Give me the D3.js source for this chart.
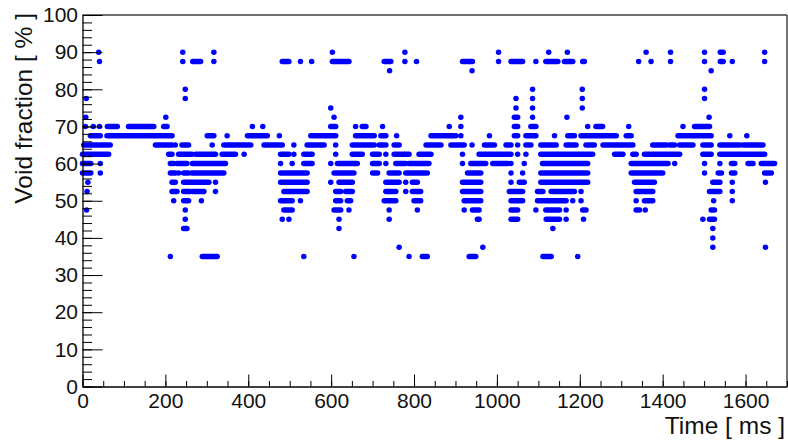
<!DOCTYPE html>
<html>
<head>
<meta charset="utf-8">
<script src="https://cdn.jsdelivr.net/npm/d3@7"></script>
<style>
  body { margin: 0; background: #fff; }
  svg { display: block; font-family: "Liberation Sans", Arial, Helvetica, sans-serif; }
</style>
</head>
<body>
<svg id="chart" width="788" height="442"></svg>
<script>
// void fraction levels (%) and the times (ms) where a marker sits on that level.
// a plain number is one marker, a [from, to] pair is a run of overlapping markers.
const t90 = [39, 242, 317, 603, 778, 1004, 1125, 1170, 1360, 1419, 1501, [1539, 1546], 1646];
const t875 = [41, 242, [266, 285], 317, [482, 498], 526, 553, [603, 643], [728, 744], 778, 806,
  [917, 941], 1004, [1034, 1062], 1094, [1118, 1147], [1163, 1183], [1207, 1211], 1342, 1372,
  1419, 1501, [1539, 1546], 1568, 1646];
const t85 = [741, 940, 1517];
const t80 = [248, 1086, 1206, 1501];
const t775 = [9, 248, 1046, 1086, 1206, 1501];
const t75 = [599, 1046, 1086, 1206];
const t725 = [8, 201, 607, 913, [1042, 1050], 1086, 1169, 1512];
const t70 = [7, 26, 41, [60, 84], [111, 172], [196, 204], 410, 435, [599, 611], 659, [675, 684],
  724, 885, 913, [1042, 1050], [1082, 1094], 1219, [1239, 1255], 1318, 1449, [1477, 1513]];
const t675 = [[19, 43], [59, 216], [301, 317], 349, [398, 446], 475, [551, 611], [659, 704],
  [720, 732], 758, [841, 901], 913, 982, [1042, 1050], [1070, 1094], 1139, [1171, 1187],
  [1203, 1288], [1312, 1324], [1437, 1517], 1562, 1603];
const t65 = [[3, 67], [176, 216], 224, [240, 256], 313, [341, 406], [438, 482], 510, [542, 583],
  611, [651, 704], [716, 732], [752, 764], [829, 865], [889, 921], 940, [970, 994], [1022, 1034],
  1050, [1070, 1082], [1106, 1143], [1167, 1191], [1215, 1235], [1256, 1328], [1376, 1409],
  [1417, 1429], [1441, 1473], [1497, 1517], [1538, 1586], [1594, 1642]];
const t625 = [[0, 63], [208, 216], [232, 264], [273, 321], [337, 369], 390, [478, 498], 510,
  [534, 554], 611, [651, 675], [700, 716], 732, [752, 788], [812, 841], 917, [957, 1034], 1050,
  1070, [1106, 1231], [1284, 1304], [1328, 1336], [1356, 1441], [1497, 1517], [1538, 1646]];
const t60 = [[0, 20], 43, [212, 220], [228, 252], [265, 345], 478, 506, [534, 554], 599,
  [615, 663], [700, 716], 732, [756, 780], [788, 836], 917, [937, 973], [990, 1026], 1034, 1066,
  [1110, 1219], [1324, 1413], 1429, 1501, 1538, [1566, 1574], [1606, 1618], [1638, 1670]];
const t575 = [[0, 20], 43, [212, 224], 232, [244, 256], [264, 341], [478, 542], [607, 655],
  [700, 712], [740, 764], [780, 832], [929, 961], 1034, 1062, [1106, 1219], [1324, 1400], 1501,
  [1534, 1542], [1566, 1574], [1646, 1662]];
const t55 = [13, [216, 224], [244, 260], [264, 305], 321, [478, 542], 599, [619, 651], [732, 764],
  780, [796, 808], [917, 961], 1034, [1054, 1066], [1106, 1219], [1332, 1380], [1521, 1538],
  1568, 1648];
const t525 = [11, [216, 228], [244, 260], [265, 293], 321, [486, 542], [611, 623], [635, 651],
  [732, 756], 780, [796, 816], [917, 961], [1030, 1062], [1098, 1111], [1131, 1187], 1203,
  [1336, 1376], [1513, 1538], 1568];
const t50 = [220, [244, 256], 287, [478, 506], 526, [611, 623], [639, 647], [728, 756], [800, 816],
  [921, 961], [1034, 1062], [1098, 1167], 1183, 1203, 1336, [1356, 1376], 1523, 1568];
const t475 = [10, 248, [486, 506], [607, 623], 643, 740, 808, 921, [941, 957], [1034, 1050], 1094,
  [1118, 1151], 1167, [1207, 1215], [1336, 1344], 1358, [1517, 1525]];
const t45 = [248, 482, 498, 619, 740, [953, 957], [1034, 1050], [1119, 1151], 1167, 1209, 1497,
  [1513, 1525]];
const t425 = [[244, 252], 619, 1135, 1521];
const t40 = [1521];
const t375 = [764, 966, 1521, 1648];
const t35 = [212, [289, 325], 534, 655, 788, [820, 832], [933, 949], [1111, 1131], 1195];

const levels = [90, 87.5, 85, 80, 77.5, 75, 72.5, 70, 67.5, 65, 62.5, 60, 57.5, 55, 52.5, 50,
  47.5, 45, 42.5, 40, 37.5, 35];
const times = [t90, t875, t85, t80, t775, t75, t725, t70, t675, t65, t625, t60, t575, t55, t525,
  t50, t475, t45, t425, t40, t375, t35];

const xTicks = [0, 200, 400, 600, 800, 1000, 1200, 1400, 1600];
const yTicks = [0, 10, 20, 30, 40, 50, 60, 70, 80, 90, 100];

const svg = d3.select("#chart");
const padL = 82.5, padR = 787, padT = 15, padB = 386.5;
const r = 2.75;

const x = d3.scaleLinear().domain([0, 1700]).range([padL, padR]);
const y = d3.scaleLinear().domain([0, 100]).range([padB, padT]);

// flatten to one record per marker run
const runs = [];
levels.forEach((v, i) => {
  times[i].forEach(t => {
    const a = Array.isArray(t) ? t[0] : t;
    const b = Array.isArray(t) ? t[1] : t;
    runs.push({ v, a, b });
  });
});

// frame (top / right)
svg.append("line").attr("x1", padL).attr("x2", padR).attr("y1", padT).attr("y2", padT)
  .attr("stroke", "#6f6f6f").attr("stroke-width", 2);
svg.append("line").attr("x1", padR).attr("x2", padR).attr("y1", padT).attr("y2", padB)
  .attr("stroke", "#444").attr("stroke-width", 1.5);

// markers
svg.append("g")
  .selectAll("line")
  .data(runs)
  .join("line")
  .attr("x1", d => x(d.a))
  .attr("x2", d => x(d.b))
  .attr("y1", d => y(d.v))
  .attr("y2", d => y(d.v))
  .attr("stroke", "#0000ff")
  .attr("stroke-width", 2 * r)
  .attr("stroke-linecap", "round");

// minor ticks
svg.append("g")
  .attr("transform", `translate(0,${padB})`)
  .call(d3.axisBottom(x).tickValues(d3.range(0, 1701, 50)).tickSize(-5.5).tickSizeOuter(0).tickFormat(""))
  .call(g => g.select(".domain").remove());
svg.append("g")
  .attr("transform", `translate(${padL},0)`)
  .call(d3.axisLeft(y).tickValues(d3.range(0, 101, 2)).tickSize(-9.5).tickSizeOuter(0).tickFormat(""))
  .call(g => g.select(".domain").remove());

// major ticks + labels
const xAxis = svg.append("g")
  .attr("transform", `translate(0,${padB})`)
  .call(d3.axisBottom(x).tickValues(xTicks).tickFormat(d3.format("d"))
    .tickSize(-12).tickSizeOuter(0).tickPadding(6.5));
const yAxis = svg.append("g")
  .attr("transform", `translate(${padL},0)`)
  .call(d3.axisLeft(y).tickValues(yTicks).tickFormat(d3.format("d"))
    .tickSize(-20).tickSizeOuter(0).tickPadding(4.5));

svg.selectAll(".tick line").attr("stroke", "#000");
[xAxis, yAxis].forEach(g => {
  g.select(".domain").attr("stroke", "#000").attr("stroke-width", 1.3);
  g.selectAll("text").attr("font-size", 21).attr("fill", "#111")
    .attr("font-family", "Liberation Sans, Arial, sans-serif");
});

// axis titles
svg.append("text")
  .attr("x", 785).attr("y", 434)
  .attr("text-anchor", "end")
  .attr("font-size", 24.5)
  .attr("fill", "#111")
  .text("Time [ ms ]");

svg.append("text")
  .attr("transform", "translate(31.5,13) rotate(-90)")
  .attr("text-anchor", "end")
  .attr("font-size", 24.5)
  .attr("fill", "#111")
  .text("Void fraction [ % ]");
</script>
</body>
</html>
